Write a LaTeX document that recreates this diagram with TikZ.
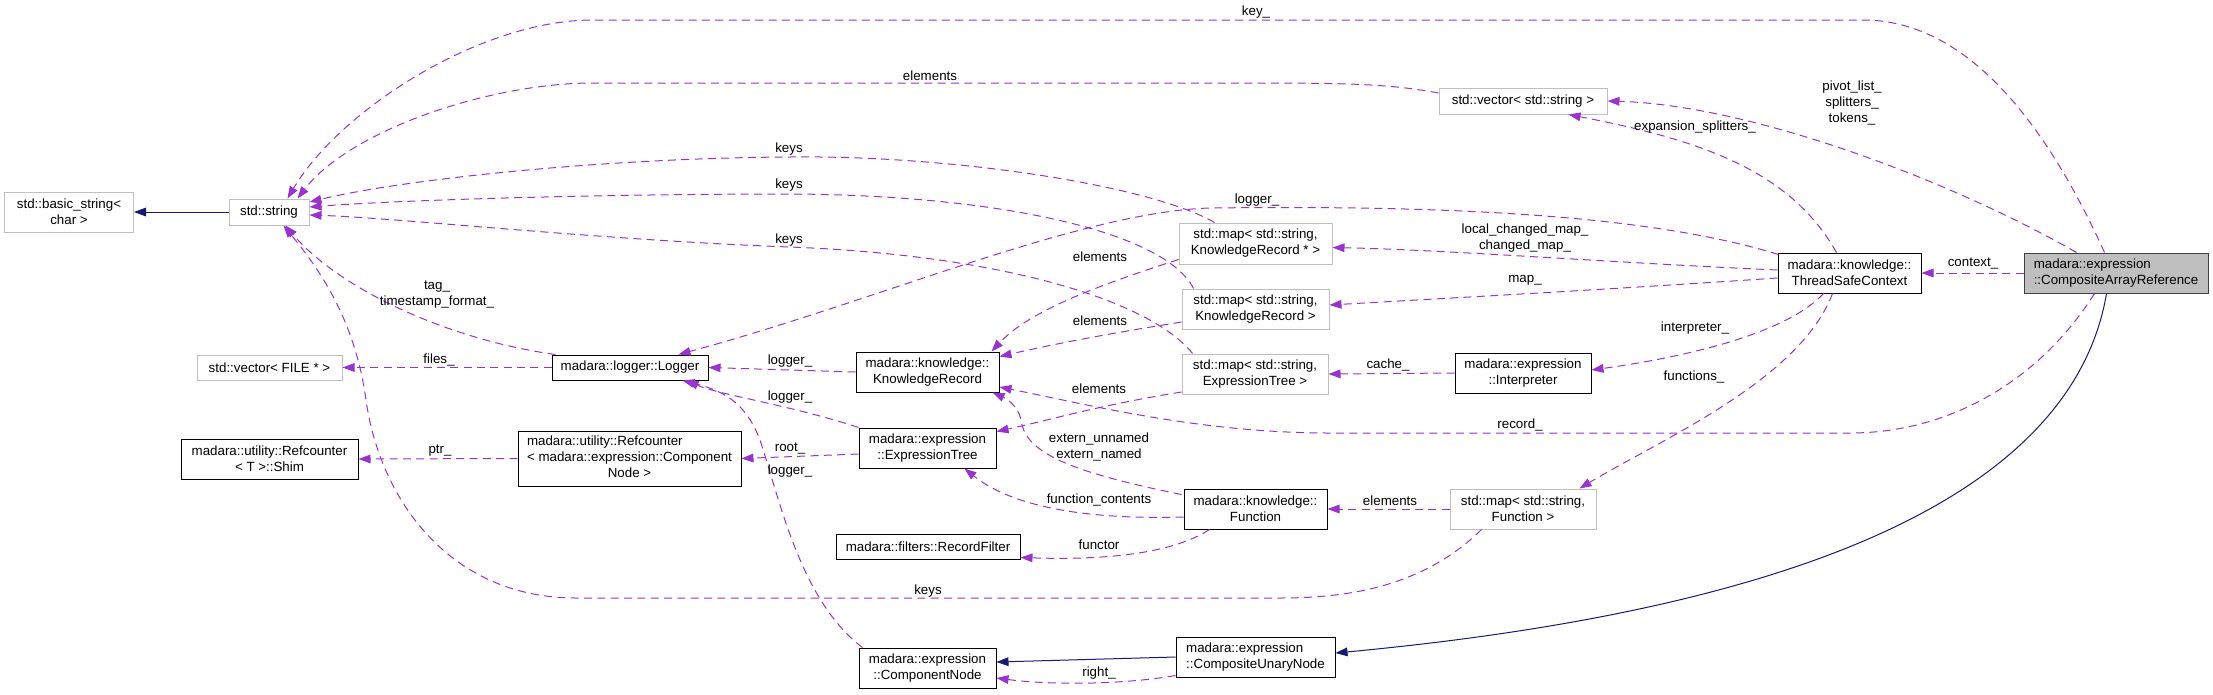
\documentclass[tikz,border=0pt]{standalone}
\usepackage{fontspec}
\setmainfont{Liberation Sans}
\usetikzlibrary{arrows.meta,calc}
\definecolor{usecol}{HTML}{9A32CD}
\definecolor{inhcol}{HTML}{191970}
\definecolor{extcol}{HTML}{BFBFBF}
\begin{document}
\begin{tikzpicture}[x=0.75pt,y=-0.75pt,
  every node/.style={font=\fontsize{10}{12}\selectfont},
  cls/.style={draw=black,fill=white,inner sep=1pt,line width=0.75pt,align=center},
  ext/.style={cls,draw=extcol},
  me/.style={cls,draw=black!75,fill=extcol},
  uses/.style={draw=usecol,line width=0.75pt,dash pattern=on 6pt off 4pt,
    -{Triangle[length=9pt,width=6.5pt,fill=usecol]}},
  inh/.style={draw=inhcol,line width=0.75pt,-{Triangle[length=9pt,width=6.5pt,fill=inhcol]}},
  lbl/.style={inner sep=0pt,align=center}]
\useasboundingbox (0,0) rectangle (2213,694);

% classes
\node[ext,minimum width=96.75pt,minimum height=30pt] (basic) at (69,212) {std::basic\_string<\\char >};
\node[ext,minimum width=60pt,minimum height=19.5pt] (string) at (269,212) {std::string};
\node[ext,minimum width=108.75pt,minimum height=18.75pt] (vecfile) at (269.5,367.5) {std::vector< FILE * >};
\node[cls,minimum width=117pt,minimum height=18.75pt] (logger) at (630,367.5) {madara::logger::Logger};
\node[cls,minimum width=132.75pt,minimum height=30pt] (shim) at (269.5,459) {madara::utility::Refcounter\\< T >::Shim};
\node[cls,minimum width=167.25pt,minimum height=41.25pt] (rccn) at (629.5,458.5)
  {\begin{tabular}{@{}l@{}}madara::utility::Refcounter\\< madara::expression::Component\\\multicolumn{1}{@{}c@{}}{Node >}\end{tabular}};
\node[cls,minimum width=107.25pt,minimum height=30pt] (kr) at (927.5,372) {madara::knowledge::\\KnowledgeRecord};
\node[cls,minimum width=102.75pt,minimum height=30pt] (et) at (927.5,448) {madara::expression\\::ExpressionTree};
\node[cls,minimum width=138pt,minimum height=18.75pt] (filter) at (928,546.5) {madara::filters::RecordFilter};
\node[cls,minimum width=102.75pt,minimum height=30pt] (cn) at (927.5,668) {madara::expression\\::ComponentNode};
\node[ext,minimum width=126pt,minimum height=19.5pt] (veclstr) at (1523,101) {std::vector< std::string >};
\node[ext,minimum width=114.75pt,minimum height=30.75pt] (mapkrp) at (1255.5,243.5) {std::map< std::string,\\KnowledgeRecord * >};
\node[ext,minimum width=110.25pt,minimum height=30pt] (mapkr) at (1255.5,309) {std::map< std::string,\\KnowledgeRecord >};
\node[ext,minimum width=109.5pt,minimum height=30pt] (mapet) at (1255,374) {std::map< std::string,\\ExpressionTree >};
\node[cls,minimum width=107.25pt,minimum height=30pt] (func) at (1255.5,509) {madara::knowledge::\\Function};
\node[cls,minimum width=119.25pt,minimum height=30pt,align=left] (cun) at (1255.5,657) {madara::expression\\::CompositeUnaryNode};
\node[cls,minimum width=102pt,minimum height=30pt] (interp) at (1523,373) {madara::expression\\::Interpreter};
\node[ext,minimum width=109.5pt,minimum height=30pt] (mapfn) at (1523,509) {std::map< std::string,\\Function >};
\node[cls,minimum width=107.25pt,minimum height=30pt] (tsc) at (1849.5,273) {madara::knowledge::\\ThreadSafeContext};
\node[me,minimum width=138pt,minimum height=30pt,align=left] (car) at (2116,273) {madara::expression\\::CompositeArrayReference};

% inheritance
\draw[inh] (string.west) -- (basic.east);
\draw[inh] ($(car.south west)+(83,0)$) .. controls (2080,450) and (1900,600) .. ($(cun.east)+(0,-4)$);
\draw[inh] (cun.west) -- ($(cn.east)+(0,-6)$);

% usage
\draw[uses] ($(car.north west)+(81,0)$) .. controls (2040,110) and (1960,20) .. (1863,20)
  -- (593,20) .. controls (480,20) and (340,110) .. ($(string.north west)+(59,0)$);
\draw[uses] ($(veclstr.west)+(0,-8)$) .. controls (1390,84) and (1350,83) .. (1250,83)
  -- (593,83) .. controls (490,83) and (350,130) .. ($(string.north west)+(69,0)$);
\draw[uses] ($(car.north west)+(53,0)$) .. controls (1950,180) and (1750,105) .. (veclstr.east);
\draw[uses] ($(tsc.north west)+(59,0)$) .. controls (1790,170) and (1700,140) .. ($(veclstr.south west)+(130,0)$);
\draw[uses] ($(tsc.north west)+(1,2)$) .. controls (1650,215) and (1450,205) .. (1210,208)
  .. controls (1080,212) and (880,300) .. ($(logger.north west)+(127,0)$);
\draw[uses] ($(tsc.west)+(0,-3)$) .. controls (1600,262) and (1450,250) .. ($(mapkrp.east)+(0,4)$);
\draw[uses] ($(tsc.west)+(0,5)$) .. controls (1600,290) and (1450,298) .. ($(mapkr.east)+(0,-4)$);
\draw[uses] ($(tsc.south west)+(46,0)$) .. controls (1790,330) and (1700,355) .. ($(interp.east)+(0,-3)$);
\draw[uses] ($(tsc.south west)+(55,0)$) .. controls (1800,380) and (1660,440) .. ($(mapfn.north west)+(130,0)$);
\draw[uses] (car.west) -- (tsc.east);
\draw[uses] ($(car.south west)+(71,0)$) .. controls (2040,380) and (1950,433) .. (1850,433)
  -- (1330,433) .. controls (1200,433) and (1090,405) .. ($(kr.east)+(0,15)$);
\draw[uses] ($(mapkrp.west)+(0,16)$) .. controls (1100,285) and (1030,310) .. ($(kr.north east)+(-8,0)$);
\draw[uses] ($(mapkr.west)+(0,13)$) .. controls (1100,335) and (1050,345) .. ($(kr.north east)+(0,5)$);
\draw[uses] ($(mapet.west)+(0,18)$) .. controls (1100,405) and (1050,420) .. ($(et.north east)+(0,4)$);
\draw[uses] ($(mapkrp.north west)+(36,0)$) .. controls (1150,185) and (950,155) .. (790,157)
  .. controls (600,158) and (400,180) .. ($(string.east)+(0,-10)$);
\draw[uses] ($(mapkr.north west)+(12,0)$) .. controls (1165,232) and (1000,195) .. (790,194)
  .. controls (600,194) and (400,200) .. ($(string.east)+(0,-5)$);
\draw[uses] ($(mapet.north west)+(11,0)$) .. controls (1150,300) and (1000,255) .. (790,247)
  .. controls (600,240) and (400,218) .. ($(string.east)+(0,3)$);
\draw[uses] ($(mapfn.south west)+(32,0)$) .. controls (1420,590) and (1340,598) .. (1279,598)
  -- (576,598) .. controls (450,598) and (380,500) .. (366,400)
  .. controls (355,320) and (320,270) .. ($(string.south west)+(55,0)$);
\draw[uses] ($(logger.north west)+(4,0)$) .. controls (450,340) and (340,290) .. ($(string.south west)+(57,0)$);
\draw[uses] (logger.west) -- (vecfile.east);
\draw[uses] (kr.west) -- (logger.east);
\draw[uses] (et.north west) .. controls (790,405) and (720,395) .. ($(logger.south west)+(135,0)$);
\draw[uses] ($(cn.north west)+(4,0)$) .. controls (800,600) and (780,500) .. (760,440)
  .. controls (745,400) and (720,390) .. ($(logger.south west)+(131,0)$);
\draw[uses] ($(et.west)+(0,6)$) -- (rccn.east);
\draw[uses] (rccn.west) -- (shim.east);
\draw[uses] ($(func.north west)+(-2,6)$) .. controls (1060,470) and (1025,450) .. (1021,420)
  .. controls (1018,405) and (1005,398) .. ($(kr.south east)+(-7,0)$);
\draw[uses] ($(func.west)+(0,8)$) .. controls (1080,520) and (1010,505) .. ($(et.south east)+(-32,0)$);
\draw[uses] ($(func.south west)+(26,0)$) .. controls (1170,555) and (1100,560) .. ($(filter.south east)+(0,-2)$);
\draw[uses] (mapfn.west) -- (func.east);
\draw[uses] (interp.west) -- (mapet.east);
\draw[uses] ($(cun.south west)+(0,-2)$) .. controls (1120,685) and (1050,685) .. ($(cn.east)+(0,10)$);

% edge labels
\node[lbl] (l-key) at (1256,12) {key\_};
\node[lbl] (l-elem0) at (930,76) {elements};
\node[lbl] (l-pivot) at (1852,103) {pivot\_list\_\\splitters\_\\tokens\_};
\node[lbl] (l-expsp) at (1695,127) {expansion\_splitters\_};
\node[lbl] (l-keys1) at (789,149) {keys};
\node[lbl] (l-keys2) at (789,185) {keys};
\node[lbl] (l-keys3) at (789,240) {keys};
\node[lbl] (l-logtsc) at (1257,200) {logger\_};
\node[lbl] (l-chmap) at (1525,238) {local\_changed\_map\_\\changed\_map\_};
\node[lbl] (l-map) at (1525,280) {map\_};
\node[lbl] (l-elem1) at (1100,257) {elements};
\node[lbl] (l-ctx) at (1973,264) {context\_};
\node[lbl] (l-tag) at (437,295) {tag\_\\timestamp\_format\_};
\node[lbl] (l-files) at (439,360) {files\_};
\node[lbl] (l-logkr) at (790,361) {logger\_};
\node[lbl] (l-elem2) at (1100,321) {elements};
\node[lbl] (l-interp) at (1695,328) {interpreter\_};
\node[lbl] (l-cache) at (1388,365) {cache\_};
\node[lbl] (l-funcs) at (1694,377) {functions\_};
\node[lbl] (l-elem3) at (1099,389) {elements};
\node[lbl] (l-loget) at (790,397) {logger\_};
\node[lbl] (l-record) at (1520,425) {record\_};
\node[lbl] (l-extern) at (1099,447) {extern\_unnamed\\extern\_named};
\node[lbl] (l-root) at (790,449) {root\_};
\node[lbl] (l-ptr) at (440,451) {ptr\_};
\node[lbl] (l-logcn) at (790,471) {logger\_};
\node[lbl] (l-fcont) at (1099,500) {function\_contents};
\node[lbl] (l-elem4) at (1390,501) {elements};
\node[lbl] (l-functor) at (1099,545) {functor};
\node[lbl] (l-keys4) at (928,591) {keys};
\node[lbl] (l-right) at (1099,673) {right\_};
\end{tikzpicture}
\end{document}
